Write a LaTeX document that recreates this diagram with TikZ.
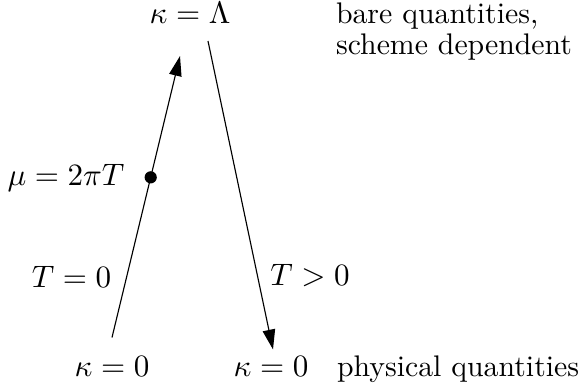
\documentclass[tikz,border=0pt]{standalone}
\usetikzlibrary{arrows.meta,calc}
\begin{document}
\begin{tikzpicture}[
  x=0.3524pt,y=-0.3524pt,
  font=\fontsize{10.5pt}{12.6pt}\selectfont,
  lbl/.style={anchor=base},
  txt/.style={anchor=base west},
  arr/.style={-{Triangle[length=7pt,width=4.4pt]},thin,black},
  fixpt/.style={circle,fill=black,inner sep=0pt,minimum size=4.3pt},
]
\useasboundingbox (0,0) rectangle (582,385);

% scale values
\node[lbl] (top) at (190,23) {$\kappa=\Lambda$};
\node[lbl] (kl) at (112,376) {$\kappa=0$};
\node[lbl] (kr) at (271,376) {$\kappa=0$};

% what they mean
\node[txt] (bare) at (326,23) {bare quantities,};
\node[txt] (scheme) at (326,54) {scheme dependent};
\node[txt] (phys) at (327,376) {physical quantities};

% the two flows
\draw[arr] ($(kl.north)+(0,-8.5)$) -- node[pos=0.569,fixpt] (mu) {}
  ($(top.south)+(-10,23)$);
\draw[arr] ($(top.south)+(18,8)$) -- ($(kr.north)+(2,3.5)$);

\node[lbl] (mulbl) at (66,185) {$\mu=2\pi T$};
\node[lbl] (tzero) at (71.5,287) {$T=0$};
\node[lbl] (tpos) at (310,285) {$T>0$};
\end{tikzpicture}
\end{document}
